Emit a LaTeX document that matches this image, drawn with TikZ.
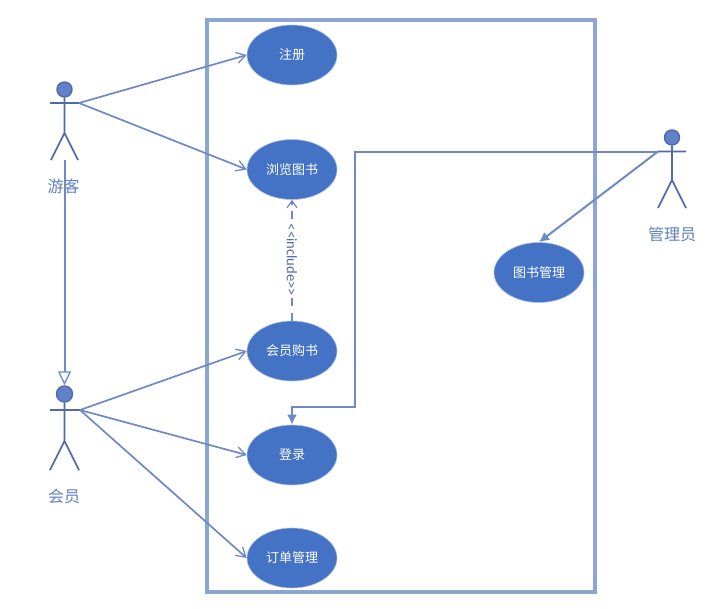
\documentclass[tikz,border=0pt]{standalone}
\usepackage{fontspec}
\setmainfont{Carlito}
\newfontfamily\cjk{Noto Sans CJK SC}
\usetikzlibrary{arrows.meta,shapes.geometric}
\definecolor{frameblue}{HTML}{8CA6D4}
\definecolor{linkblue}{HTML}{6E89C6}
\definecolor{fillblue}{HTML}{4472C4}
\definecolor{stickblue}{HTML}{4F6AA5}
\definecolor{headblue}{HTML}{6181CB}
\definecolor{labelblue}{HTML}{5F80BE}
\tikzset{
  usecase/.style={ellipse,draw=fillblue!45,line width=0.6pt,fill=fillblue,text=white,
    minimum width=90pt,minimum height=60pt,inner sep=0pt,font=\cjk\fontsize{13}{15}\selectfont},
  systemframe/.style={draw=frameblue,line width=3.1pt},
  stick/.style={draw=stickblue,line width=1.7pt},
  acthead/.style={circle,draw=stickblue,line width=1.4pt,fill=headblue,minimum size=15pt,inner sep=0pt},
  actorlabel/.style={text=labelblue,font=\cjk\fontsize{16}{18}\selectfont,inner sep=0pt},
  assoc/.style={draw=linkblue,line width=1.7pt,-{Straight Barb[length=9pt,width=11pt,line width=1.3pt]}},
  solidtip/.style={draw=linkblue,line width=2pt,-{Latex[length=10pt,width=10pt,fill=linkblue]}},
  inherit/.style={draw=linkblue,line width=2pt,-{Triangle[open,length=14pt,width=13pt,line width=1.3pt,fill=white]}},
  includeline/.style={draw=linkblue,line width=1.4pt,dash pattern=on 8pt off 6.5pt,-{Straight Barb[length=7pt,width=10pt,line width=1.2pt]}},
  includelabel/.style={fill=white,text=stickblue,rotate=-90,inner xsep=0.5pt,inner ysep=2pt,font=\fontsize{14.6}{17}\selectfont},
}
\begin{document}
\begin{tikzpicture}[x=1pt,y=-1pt]
\useasboundingbox[fill=white] (0,0) rectangle (720,608);
\node[draw=none,fill=none,inner sep=0pt] (sysA) at (207,20) {};
\node[draw=none,fill=none,inner sep=0pt] (sysB) at (595,592) {};
\draw[systemframe] (sysA.center) rectangle (sysB.center);

\node[usecase] (reg) at (292,55) {注册};
\node[usecase] (browse) at (292,169.5) {浏览图书};
\node[usecase] (buy) at (292,351) {会员购书};
\node[usecase] (login) at (292,455) {登录};
\node[usecase] (order) at (292,558) {订单管理};
\node[usecase] (manage) at (539,272.5) {图书管理};

% guest
\node[acthead] (ghead) at (64.5,89.5) {};
\coordinate (gneck) at (64.5,103);
\coordinate (gl) at (50,103);
\coordinate (gr) at (79,103);
\coordinate (ghip) at (64.5,133);
\coordinate (gfl) at (51,160);
\coordinate (gfr) at (78,160);
\draw[stick] (ghead) -- (ghip) (gl) -- (gr) (gfl) -- (ghip) -- (gfr);
\node[actorlabel] (glabel) at (63.5,186) {游客};

% member
\node[acthead,minimum size=16pt] (mhead) at (64.5,394) {};
\coordinate (ml) at (50,410);
\coordinate (mr) at (80,410);
\coordinate (mhip) at (64.5,441);
\coordinate (mfl) at (50,470);
\coordinate (mfr) at (79,470);
\draw[stick] (mhead) -- (mhip) (ml) -- (mr) (mfl) -- (mhip) -- (mfr);
\node[actorlabel] (mlabel) at (64,496) {会员};

% admin
\node[acthead] (ahead) at (672,137.5) {};
\coordinate (al) at (658,151.5);
\coordinate (ar) at (686,151.5);
\coordinate (ahip) at (672,180);
\coordinate (afl) at (658,208);
\coordinate (afr) at (686,208);
\draw[stick] (ahead) -- (ahip) (al) -- (ar) (afl) -- (ahip) -- (afr);
\node[actorlabel] (alabel) at (672,234) {管理员};

% associations
\draw[assoc] (gr) -- (reg.west);
\draw[assoc] (gr) -- (browse.west);
\draw[assoc] (mr) -- (buy.west);
\draw[assoc] (mr) -- (login.west);
\draw[assoc] (mr) -- (order.west);
\coordinate (gstart) at (64.5,160);
\draw[inherit] (gstart) -- (mhead.north);
\draw[includeline] (buy.north) -- (browse.south);
\node[includelabel] (inc) at (292,260) {{<}{<}include{>}{>}};
\draw[solidtip] (al) -- (manage.north);
\coordinate (bendA) at (355,151.5);
\coordinate (bendB) at (355,407);
\coordinate (bendC) at (292,407);
\draw[solidtip] (al) -- (bendA) -- (bendB) -- (bendC) -- (login.north);
\end{tikzpicture}
\end{document}
